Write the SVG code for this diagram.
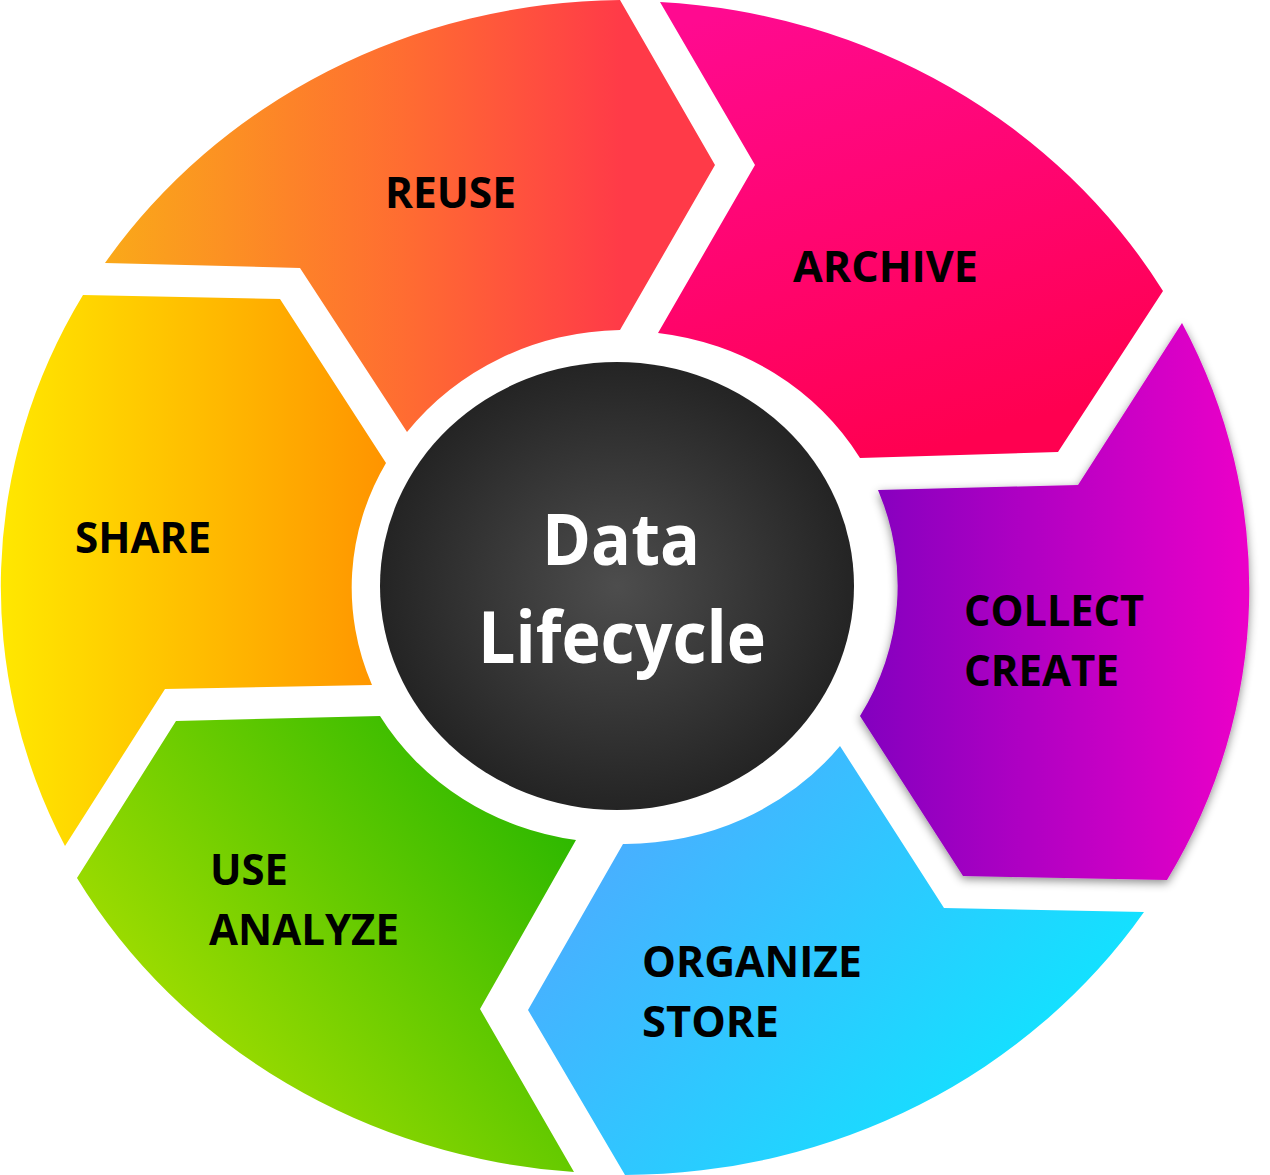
<svg xmlns="http://www.w3.org/2000/svg" width="1270" height="1175" viewBox="0 0 1270 1175">
<style>
.lbl{font-family:"Open Sans","Noto Sans","Liberation Sans",sans-serif;font-weight:700;font-size:43px;fill:#000}
.ctr{font-family:"Open Sans","Noto Sans","Liberation Sans",sans-serif;font-weight:700;font-size:72px;fill:#fff}
</style>
<defs>
<linearGradient id="gReuse" gradientUnits="userSpaceOnUse" x1="105" y1="0" x2="715" y2="0">
<stop offset="0" stop-color="#FAA919"/><stop offset="0.5" stop-color="#FF6B32"/><stop offset="0.85" stop-color="#FF3A48"/><stop offset="1" stop-color="#FF3A48"/>
</linearGradient>
<linearGradient id="gArchive" gradientUnits="userSpaceOnUse" x1="760" y1="0" x2="900" y2="460">
<stop offset="0" stop-color="#FF0A90"/><stop offset="1" stop-color="#FF0050"/>
</linearGradient>
<linearGradient id="gCollect" gradientUnits="userSpaceOnUse" x1="860" y1="0" x2="1250" y2="0">
<stop offset="0" stop-color="#8300BF"/><stop offset="1" stop-color="#EC00C8"/>
</linearGradient>
<linearGradient id="gOrganize" gradientUnits="userSpaceOnUse" x1="620" y1="820" x2="1000" y2="1140">
<stop offset="0" stop-color="#4AAEFF"/><stop offset="1" stop-color="#10E4FF"/>
</linearGradient>
<linearGradient id="gUse" gradientUnits="userSpaceOnUse" x1="570" y1="820" x2="230" y2="1100">
<stop offset="0" stop-color="#2CB800"/><stop offset="1" stop-color="#9EDC00"/>
</linearGradient>
<linearGradient id="gShare" gradientUnits="userSpaceOnUse" x1="0" y1="0" x2="386" y2="0">
<stop offset="0" stop-color="#FFE800"/><stop offset="1" stop-color="#FF9400"/>
</linearGradient>
<radialGradient id="gCenter" cx="0.5" cy="0.5" r="0.5">
<stop offset="0" stop-color="#4D4D4D"/><stop offset="1" stop-color="#242424"/>
</radialGradient>
<filter id="shadow" x="-10%" y="-10%" width="120%" height="120%">
<feDropShadow dx="0" dy="3" stdDeviation="5" flood-color="#000" flood-opacity="0.45"/>
</filter>
</defs>
<rect width="1270" height="1175" fill="#fff"/>

<g id="reuse">
<path d="M105,263 A625,588 0 0 1 620,0 L715,165 L620,330 A273,257 0 0 0 407,432 L300,268 Z" fill="url(#gReuse)"/>
<text class="lbl" x="385" y="208" textLength="131" lengthAdjust="spacingAndGlyphs">REUSE</text>
</g>

<g id="archive">
<path d="M660,2 A625,588 0 0 1 1163,291 L1058,452 L860,458 A273,257 0 0 0 658,333 L755,165 Z" fill="url(#gArchive)"/>
<text class="lbl" x="793" y="282" textLength="185" lengthAdjust="spacingAndGlyphs">ARCHIVE</text>
</g>

<g id="collect">
<path d="M1182,323 A625,588 0 0 1 1167,880 L963,876 L860,716 A273,257 0 0 0 878,490 L1078,485 Z" fill="url(#gCollect)" filter="url(#shadow)"/>
<text class="lbl" x="964" y="626" textLength="180" lengthAdjust="spacingAndGlyphs">COLLECT</text>
<text class="lbl" x="964" y="686" textLength="155" lengthAdjust="spacingAndGlyphs">CREATE</text>
</g>

<g id="organize">
<path d="M840,746 L944,908 L1144,912 A625,588 0 0 1 625,1175 L528,1010 L623,844 A273,257 0 0 0 840,746 Z" fill="url(#gOrganize)"/>
<text class="lbl" x="642" y="977" textLength="220" lengthAdjust="spacingAndGlyphs">ORGANIZE</text>
<text class="lbl" x="642" y="1037" textLength="137" lengthAdjust="spacingAndGlyphs">STORE</text>
</g>

<g id="use">
<path d="M576,840 L480,1009 L574,1172 A625,588 0 0 1 77,878 L176,721 L380,716 A273,257 0 0 0 576,840 Z" fill="url(#gUse)"/>
<text class="lbl" x="210" y="885" textLength="78" lengthAdjust="spacingAndGlyphs">USE</text>
<text class="lbl" x="209" y="945" textLength="190" lengthAdjust="spacingAndGlyphs">ANALYZE</text>
</g>

<g id="share">
<path d="M83,295 L280,299 L386,463 A273,257 0 0 0 372,685 L165,689 L65,846 A625,588 0 0 1 83,295 Z" fill="url(#gShare)"/>
<text class="lbl" x="75" y="553" textLength="136" lengthAdjust="spacingAndGlyphs">SHARE</text>
</g>

<g id="center">
<ellipse cx="617" cy="586" rx="237" ry="224" fill="url(#gCenter)"/>
<text class="ctr" x="621" y="565" text-anchor="middle" textLength="158" lengthAdjust="spacingAndGlyphs">Data</text>
<text class="ctr" x="622" y="663" text-anchor="middle" textLength="288" lengthAdjust="spacingAndGlyphs">Lifecycle</text>
</g>
</svg>
